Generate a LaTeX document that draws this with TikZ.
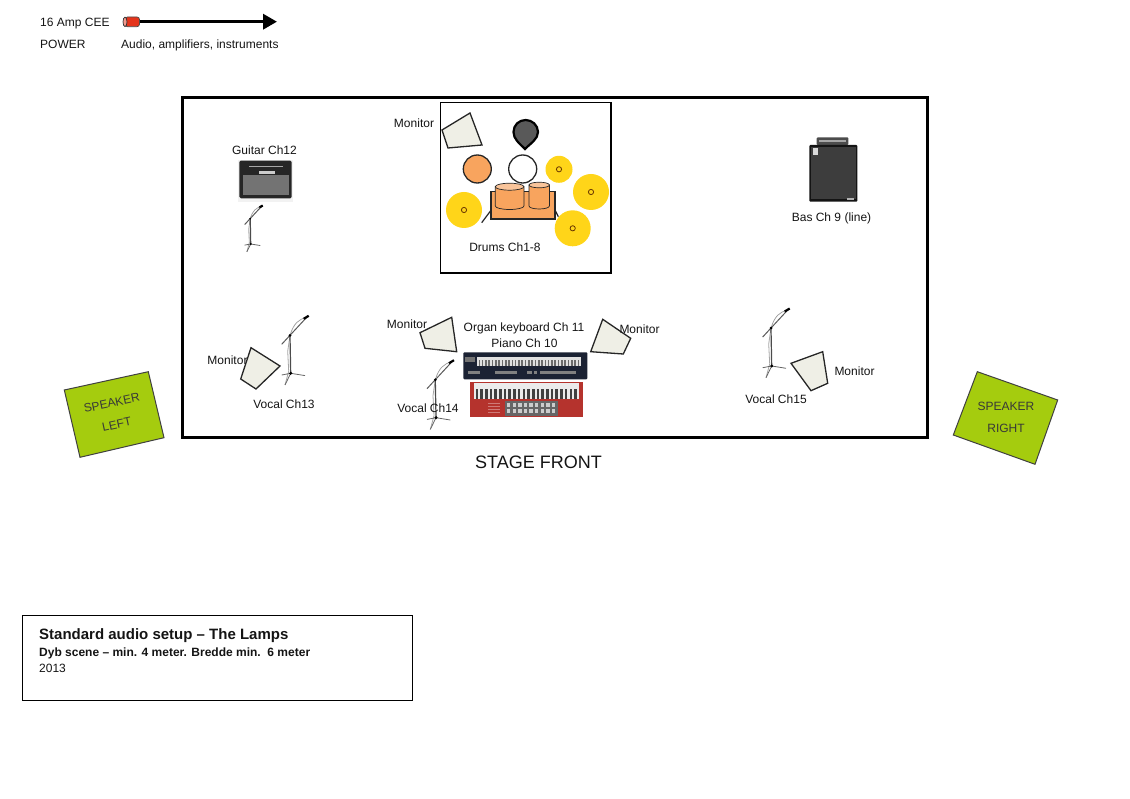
\documentclass[tikz,border=0pt]{standalone}
\usepackage{fontspec}
\setmainfont{Liberation Sans}
\usetikzlibrary{arrows.meta}

\definecolor{drumorange}{HTML}{F8A45E}
\definecolor{tomtop}{HTML}{F9C49A}
\definecolor{cymbal}{HTML}{FFD519}
\definecolor{monitorfill}{HTML}{EFEFE6}
\definecolor{speakergreen}{HTML}{A5CC0E}
\definecolor{pianored}{HTML}{B5332D}
\definecolor{organblue}{HTML}{1B2233}
\definecolor{plugred}{HTML}{E5341B}

\newcommand{\micstand}[2]{
  \begin{scope}[shift={(#1)},scale=#2]
    \draw[black!35,line width=.8pt] (-5.7,11.7) -- (-2,-2) -- (-3,-22) -- (-.7,-38);
    \draw[black!70,line width=1.2pt] (0,0) -- (-.7,-38);
    \draw[black!65,line width=1pt] (-9,-29) -- (-.7,-38) -- (16,-56);
    \draw[black!40,line width=.7pt] (-.7,-38) .. controls (3,-50) and (8,-54) .. (16,-56);
    \draw[black,line width=2.2pt] (13,-54.5) -- (18,-57.5);
    \draw[black!60,line width=.8pt] (-9,1.7) -- (0,0) -- (14.3,2.3);
    \draw[black!60,line width=.8pt] (0,0) -- (-5.7,11.7);
    \fill[black] (0,0) circle (1.7);
    \fill[black] (-.7,-38) circle (1.5);
  \end{scope}
}

\begin{document}
\begin{tikzpicture}[
    x=1pt, y=-1pt,
    every node/.style={font=\fontsize{12}{14}\selectfont, inner sep=0pt, text=black!92, text height=11pt, text depth=2.4pt},
    monitor/.style={draw=black!85, fill=monitorfill, line width=1.3pt, line join=miter},
    speaker/.style={draw=black!75, fill=speakergreen, line width=1pt},
    speakertext/.style={text=black!78},
    cymbalplate/.style={fill=cymbal},
    drumshell/.style={draw=black!85, fill=drumorange, line width=1.3pt},
    infotext/.style={anchor=west}]

\useasboundingbox (0,0) rectangle (1130,799);

% legend
\coordinate (powerstart) at (139,21.7);
\coordinate (powerend) at (277,21.7);
\draw[line width=3.4pt, -{Triangle[length=14pt,width=15pt]}] (powerstart) -- (powerend);
\draw[fill=plugred, draw=black!70, line width=.7pt, rounded corners=2.5pt] (125,17) rectangle (139.5,26.7);
\draw[fill=plugred!50, draw=black!80, line width=.7pt] (125,21.9) ellipse (2 and 4.8);
\node[infotext] (cee) at (40,22) {16 Amp CEE};
\node[infotext] (power) at (40,44) {POWER};
\node[infotext] (audio) at (121,44) {Audio, amplifiers, instruments};

% stage
\draw[black, line width=3pt] (182,98) rectangle (927,438);
\node[font=\fontsize{18}{20}\selectfont, text height=17.5pt, text depth=3.5pt] (front) at (538.5,461) {STAGE FRONT};

% drums
\draw[black, line width=1.5pt] (440.5,102.5) rectangle (611,273);
\foreach \cx/\cy/\cr in {559/169.3/13.5, 591/192/18, 572.7/228.3/18, 464/210/18} {
    \fill[cymbalplate] (\cx,\cy) circle (\cr);
    \draw[black!60!orange, line width=.8pt] (\cx,\cy) circle (2.6);
}
\draw[black!85, line width=1.2pt] (490.7,210.7) -- (481.7,222.7);
\draw[black!85, line width=1.2pt] (555,210) -- (558.3,216.7);
\draw[drumshell] (477.3,169) circle (14);
\draw[black!85, fill=white, line width=1.3pt] (522.7,169) circle (14);
\draw[black, fill=black!65, line width=2.2pt]
    (525,149) .. controls (519,143) and (513.5,139) .. (513.5,132)
    .. controls (513.5,125) and (519,120) .. (525.7,120)
    .. controls (532,120) and (538,125) .. (538,132)
    .. controls (538,139) and (531,143) .. (525,149) -- cycle;
\draw[drumshell] (491,191.7) rectangle (555,219);
\draw[drumshell, line width=.7pt] (495.3,186.7) -- (495.3,206) arc[start angle=180, end angle=0, x radius=14.3, y radius=3.5] -- (523.9,186.7) -- cycle;
\draw[drumshell, line width=.7pt, fill=tomtop] (509.6,186.7) ellipse (14.3 and 3.5);
\draw[drumshell, line width=.7pt] (529,185) -- (529,206) arc[start angle=180, end angle=0, x radius=10.2, y radius=3] -- (549.4,185) -- cycle;
\draw[drumshell, line width=.7pt, fill=tomtop] (539.2,185) ellipse (10.2 and 2.8);
\node (drums) at (505,247) {Drums Ch1-8};

% monitors
\draw[monitor] (442,130) -- (470,113) -- (482,145) -- (448,148) -- cycle;
\draw[monitor] (420,332.7) -- (451.7,317.3) -- (456.7,351.7) -- (425,348.3) -- cycle;
\draw[monitor] (602.7,319.3) -- (630.7,338.3) -- (623.3,354) -- (590.7,351.7) -- cycle;
\draw[monitor] (251,347.7) -- (280,366) -- (256,389) -- (240.7,379) -- cycle;
\draw[monitor] (791,363.3) -- (822.7,351.7) -- (827.7,383.3) -- (811,390.7) -- cycle;

% mics
\micstand{250.7,244}{.67}
\micstand{290.7,373.3}{1}
\micstand{436,417.7}{1}
\micstand{771.7,366}{1}

% guitar amp
\fill[black!5] (238,160) rectangle (293,202);
\fill[black!85, rounded corners=1.5pt] (239.3,160.7) rectangle (291.7,198.3);
\fill[black!55] (242.7,175) rectangle (289,195);
\draw[black!85, fill=black!20, line width=.6pt] (258.3,170.5) rectangle (275,174);
\draw[black!35, line width=1.4pt] (249,166.7) -- (283,166.7);

% bass amp
\fill[black!70, rounded corners=1pt] (816.7,137.3) rectangle (848.3,145);
\fill[black!35] (819,140) rectangle (846,142);
\fill[black!92, rounded corners=1pt] (809.3,145) rectangle (857.3,201.7);
\fill[black!76] (811,147.5) rectangle (855.5,199);
\fill[white!85!black] (813.3,148.3) rectangle (818.3,155);
\fill[black!30] (846.5,198) rectangle (853.5,200.5);

% organ keyboard
\fill[organblue, rounded corners=1pt] (463.3,352.3) rectangle (587.3,379.3);
\fill[black!12] (477.3,357.3) rectangle (580.7,366.3);
\foreach \k in {0,...,30} {
    \fill[black!58] (478.5+3.3*\k,359.7) rectangle +(1.6,6.6);
}
\fill[black!55] (465,357.5) rectangle (475,362);
\foreach \mx/\mw in {468/12, 495/22, 527/5, 534/3, 540/36} {
    \fill[black!50] (\mx,371.5) rectangle +(\mw,3);
}

% piano
\fill[pianored] (470,382.3) rectangle (582.7,417.3);
\fill[white!92!black] (474,383.5) rectangle (579.3,398.7);
\foreach \k in {0,...,21} {
    \fill[black!75] (475.5+4.7*\k,389) rectangle +(2.6,9.7);
}
\fill[black!60] (505,401.3) rectangle (558.3,416);
\foreach \k in {0,...,8} {
    \fill[black!20] (507+5.6*\k,403.5) rectangle +(3.4,3.6);
    \fill[black!20] (507+5.6*\k,409.5) rectangle +(3.4,3.6);
}
\foreach \k in {0,...,3} {
    \draw[pianored!65!white, line width=.4pt] (488,403+3.2*\k) -- (500,403+3.2*\k);
}

% speakers
\draw[speaker] (64.3,390) -- (148.3,371.7) -- (164,437.7) -- (80,457.3) -- cycle;
\node[speakertext, rotate=12] (spkleftA) at (111.7,402.7) {SPEAKER};
\node[speakertext, rotate=12] (spkleftB) at (116.7,424.3) {LEFT};
\draw[speaker] (977.3,371.7) -- (1057.7,400) -- (1035,464.3) -- (953.3,435) -- cycle;
\node[speakertext] (spkrightA) at (1006,406.7) {SPEAKER};
\node[speakertext] (spkrightB) at (1006,428.3) {RIGHT};

% labels
\node (monA) at (414,123) {Monitor};
\node (monB) at (407,324) {Monitor};
\node (monC) at (639.5,329) {Monitor};
\node (monD) at (227.5,360) {Monitor};
\node (monE) at (854.5,371) {Monitor};
\node (guitar) at (264.5,150) {Guitar Ch12};
\node (bass) at (831.5,217) {Bas Ch 9 (line)};
\node (organ) at (524,327) {Organ keyboard Ch 11};
\node (piano) at (524.5,343) {Piano Ch 10};
\node (vocalA) at (284,404) {Vocal Ch13};
\node (vocalB) at (428,408) {Vocal Ch14};
\node (vocalC) at (776,399) {Vocal Ch15};

% title box
\draw[black, line width=.9pt] (22.5,615.5) rectangle (412.5,700.5);
\node[infotext, font=\fontsize{15}{17}\selectfont\bfseries, text height=13pt, text depth=3pt] (title) at (39,634) {Standard audio setup – The Lamps};
\node[infotext, font=\fontsize{12}{14}\selectfont\bfseries] (depth) at (39,652.5) {Dyb scene – min. 4 meter. Bredde min.~~6 meter};
\node[infotext] (year) at (39,668) {2013};

\end{tikzpicture}
\end{document}
